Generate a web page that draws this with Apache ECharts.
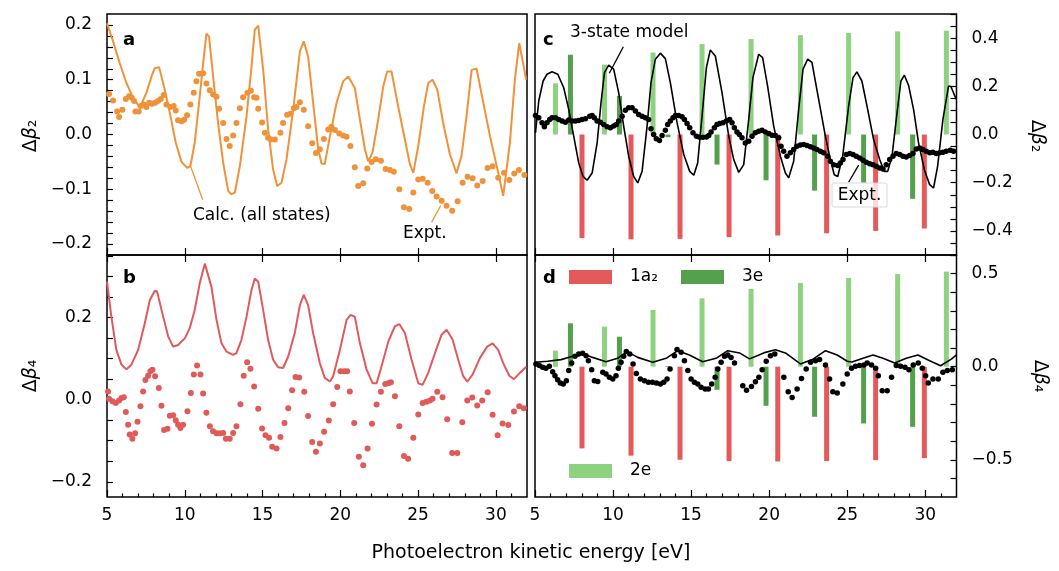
<!DOCTYPE html>
<html><head><meta charset="utf-8">
<script src="https://cdn.jsdelivr.net/npm/echarts@6/dist/echarts.min.js"></script>
<style>html,body{margin:0;padding:0;background:#fff}#c{width:1059px;height:571px}</style>
</head><body><div id="c"></div>
<script>
// ---------- DATA ----------
// panel a: Δβ2, calculation (all states) and experiment
const calcB2 = [[5.0,0.203],[5.39,0.170],[5.82,0.130],[6.25,0.094],[6.68,0.067],[7.11,0.049],[7.53,0.076],[7.86,0.106],[8.07,0.121],[8.35,0.123],[8.71,0.082],[9.04,0.039],[9.42,-0.015],[9.79,-0.050],[10.15,-0.061],[10.36,-0.058],[10.64,-0.015],[10.92,0.058],[11.18,0.130],[11.39,0.184],[11.56,0.179],[11.82,0.106],[12.14,0.021],[12.47,-0.052],[12.79,-0.103],[13.0,-0.109],[13.22,-0.106],[13.54,-0.058],[13.97,0.033],[14.29,0.124],[14.50,0.191],[14.72,0.199],[15.04,0.118],[15.36,0.009],[15.68,-0.064],[15.94,-0.094],[16.22,-0.088],[16.54,-0.045],[16.97,0.046],[17.40,0.152],[17.65,0.170],[17.93,0.142],[18.25,0.058],[18.58,-0.027],[18.79,-0.053],[19.0,-0.054],[19.33,-0.003],[19.76,0.058],[20.18,0.097],[20.51,0.106],[20.93,0.085],[21.26,0.027],[21.58,-0.027],[21.79,-0.049],[22.07,-0.033],[22.43,0.027],[22.76,0.088],[23.01,0.115],[23.29,0.115],[23.72,0.051],[24.15,-0.009],[24.47,-0.054],[24.69,-0.070],[25.01,-0.021],[25.37,0.051],[25.65,0.094],[25.93,0.100],[26.23,0.082],[26.61,0.021],[27.04,-0.036],[27.47,-0.071],[27.79,-0.039],[28.11,0.033],[28.44,0.118],[28.76,0.120],[29.19,0.058],[29.62,-0.003],[30.15,-0.070],[30.47,-0.112],[30.90,-0.015],[31.22,0.100],[31.50,0.167],[31.95,0.100]];
const exptB2 = [[5.13,0.074],[5.39,0.062],[5.65,0.042],[5.78,0.032],[5.99,0.045],[6.21,0.065],[6.42,0.070],[6.59,0.067],[6.74,0.061],[6.83,0.042],[7.04,0.042],[7.17,0.052],[7.36,0.055],[7.53,0.050],[7.71,0.058],[7.90,0.056],[8.09,0.058],[8.28,0.061],[8.46,0.065],[8.65,0.072],[8.82,0.055],[9.08,0.050],[9.29,0.052],[9.42,0.044],[9.57,0.026],[9.79,0.024],[9.96,0.027],[10.15,0.035],[10.36,0.055],[10.58,0.076],[10.75,0.097],[10.92,0.111],[11.18,0.112],[11.39,0.093],[11.61,0.081],[11.82,0.073],[12.04,0.069],[12.21,0.047],[12.47,0.021],[12.68,-0.008],[12.89,-0.021],[13.11,-0.002],[13.32,0.021],[13.54,0.048],[13.75,0.068],[14.03,0.076],[14.25,0.080],[14.46,0.068],[14.61,0.067],[14.72,0.047],[14.97,0.022],[15.15,0.003],[15.36,-0.006],[15.57,-0.009],[15.79,-0.009],[16.15,0.003],[16.32,0.021],[16.58,0.036],[16.80,0.038],[17.01,0.048],[17.18,0.050],[17.40,0.059],[17.65,0.045],[17.93,0.015],[18.19,-0.016],[18.43,-0.034],[18.68,-0.027],[18.94,-0.008],[19.22,0.009],[19.43,0.014],[19.65,0.008],[19.93,0.002],[20.18,-0.002],[20.40,-0.004],[20.65,-0.021],[20.93,-0.060],[21.15,-0.094],[21.47,-0.089],[21.73,-0.062],[22.01,-0.050],[22.28,-0.045],[22.61,-0.048],[22.91,-0.063],[23.19,-0.065],[23.44,-0.068],[23.79,-0.100],[24.09,-0.133],[24.43,-0.136],[24.69,-0.106],[25.01,-0.082],[25.29,-0.081],[25.61,-0.088],[25.91,-0.103],[26.19,-0.113],[26.51,-0.121],[26.83,-0.130],[27.19,-0.139],[27.54,-0.122],[27.86,-0.088],[28.18,-0.077],[28.50,-0.080],[28.80,-0.093],[29.15,-0.085],[29.47,-0.061],[29.79,-0.058],[30.15,-0.079],[30.52,-0.070],[30.86,-0.083],[31.18,-0.071],[31.48,-0.065],[31.83,-0.074]];

// panel b: Δβ4, calculation and experiment
const calcB4 = [[5.0,0.287],[5.28,0.202],[5.6,0.121],[5.93,0.085],[6.25,0.074],[6.57,0.085],[7.0,0.121],[7.43,0.186],[7.75,0.242],[8.07,0.265],[8.22,0.263],[8.61,0.202],[8.93,0.154],[9.25,0.129],[9.57,0.133],[10.0,0.149],[10.32,0.174],[10.64,0.218],[10.96,0.283],[11.29,0.331],[11.39,0.333],[11.71,0.275],[12.04,0.194],[12.36,0.137],[12.68,0.117],[13.11,0.109],[13.32,0.113],[13.64,0.145],[13.97,0.202],[14.29,0.267],[14.50,0.295],[14.72,0.287],[15.04,0.218],[15.36,0.145],[15.68,0.097],[16.0,0.079],[16.32,0.077],[16.65,0.105],[17.07,0.162],[17.40,0.230],[17.65,0.255],[17.93,0.230],[18.25,0.162],[18.68,0.089],[19.0,0.053],[19.33,0.044],[19.54,0.057],[19.97,0.121],[20.40,0.194],[20.66,0.206],[20.93,0.202],[21.26,0.137],[21.69,0.073],[22.07,0.040],[22.33,0.040],[22.65,0.081],[23.08,0.141],[23.5,0.178],[23.79,0.184],[24.15,0.162],[24.58,0.097],[25.01,0.040],[25.29,0.036],[25.65,0.065],[26.08,0.113],[26.51,0.158],[26.83,0.170],[27.21,0.147],[27.58,0.097],[27.90,0.057],[28.16,0.044],[28.50,0.061],[28.97,0.101],[29.44,0.129],[29.79,0.137],[30.15,0.121],[30.47,0.089],[30.86,0.058],[31.16,0.050],[31.54,0.065],[31.95,0.080]];
const exptB4 = [[5.07,0.020],[5.13,0.002],[5.35,-0.004],[5.56,-0.008],[5.78,-0.002],[5.93,0.004],[6.08,0.006],[6.21,-0.030],[6.36,-0.061],[6.46,-0.085],[6.63,-0.095],[6.81,-0.082],[6.96,-0.054],[7.15,-0.016],[7.32,0.020],[7.47,0.048],[7.64,0.058],[7.79,0.069],[7.92,0.073],[8.09,0.057],[8.33,0.028],[8.50,-0.015],[8.67,-0.074],[8.89,-0.071],[9.04,-0.039],[9.25,-0.038],[9.42,-0.050],[9.57,-0.061],[9.72,-0.069],[9.89,-0.061],[10.17,-0.028],[10.39,0.016],[10.58,0.061],[10.79,0.083],[11.01,0.061],[11.18,0.015],[11.39,-0.032],[11.61,-0.065],[11.82,-0.077],[12.04,-0.082],[12.25,-0.082],[12.47,-0.081],[12.64,-0.095],[12.89,-0.095],[13.11,-0.081],[13.32,-0.065],[13.58,-0.011],[13.79,0.058],[14.01,0.091],[14.22,0.075],[14.46,0.032],[14.72,-0.022],[14.97,-0.070],[15.19,-0.087],[15.42,-0.093],[15.62,-0.115],[15.90,-0.119],[16.15,-0.091],[16.41,-0.057],[16.65,-0.021],[16.90,0.023],[17.12,0.055],[17.35,0.054],[17.68,0.019],[17.93,-0.040],[18.19,-0.103],[18.43,-0.127],[18.68,-0.107],[18.96,-0.078],[19.26,-0.051],[19.54,-0.011],[19.80,0.031],[20.01,0.069],[20.25,0.069],[20.44,0.069],[20.61,0.020],[20.89,-0.057],[21.19,-0.139],[21.47,-0.160],[21.75,-0.119],[22.03,-0.059],[22.33,-0.012],[22.61,0.019],[22.89,0.038],[23.08,0.040],[23.25,0.042],[23.51,0.008],[23.79,-0.065],[24.09,-0.137],[24.36,-0.144],[24.69,-0.093],[25.01,-0.036],[25.29,-0.008],[25.54,-0.005],[25.76,-0.002],[25.93,0.002],[26.23,0.019],[26.57,0.006],[26.87,-0.048],[27.19,-0.130],[27.52,-0.130],[27.84,-0.055],[28.16,-0.002],[28.48,0.005],[28.80,-0.014],[29.12,-0.002],[29.47,0.018],[29.79,-0.037],[30.11,-0.087],[30.43,-0.058],[30.80,-0.062],[31.16,-0.029],[31.50,-0.016],[31.80,-0.021]];

// panel c: Δβ2, 3-state model and experiment
const model3B2 = [[5.03,0.007],[5.24,0.139],[5.52,0.222],[5.77,0.25],[6.09,0.26],[6.46,0.25],[6.84,0.194],[7.16,0.104],[7.48,-0.007],[7.80,-0.118],[8.08,-0.174],[8.34,-0.19],[8.66,-0.16],[8.98,-0.035],[9.23,0.132],[9.45,0.257],[9.72,0.288],[10.04,0.271],[10.36,0.174],[10.68,0.035],[11.0,-0.09],[11.32,-0.174],[11.58,-0.201],[11.86,-0.153],[12.18,0.035],[12.43,0.215],[12.71,0.3125],[13.03,0.3375],[13.35,0.315],[13.67,0.215],[14.10,0.049],[14.53,-0.083],[14.91,-0.153],[15.17,-0.169],[15.42,-0.118],[15.70,0.076],[15.98,0.278],[16.23,0.351],[16.55,0.326],[16.98,0.174],[17.41,-0.007],[17.73,-0.104],[18.05,-0.157],[18.37,-0.125],[18.69,0.0625],[18.96,0.236],[19.33,0.333],[19.58,0.319],[19.90,0.201],[20.29,0.035],[20.72,-0.09],[21.04,-0.16],[21.25,-0.18],[21.57,-0.111],[21.89,0.104],[22.17,0.271],[22.47,0.3125],[22.74,0.299],[23.17,0.146],[23.60,-0.007],[23.92,-0.104],[24.17,-0.167],[24.39,-0.174],[24.71,-0.09],[25.09,0.118],[25.37,0.236],[25.62,0.26],[25.94,0.222],[26.31,0.104],[26.69,-0.021],[27.08,-0.104],[27.37,-0.153],[27.59,-0.153],[27.87,-0.09],[28.19,0.09],[28.44,0.222],[28.66,0.246],[28.93,0.204],[29.25,0.104],[29.57,-0.035],[29.94,-0.146],[30.28,-0.208],[30.53,-0.222],[30.79,-0.132],[31.13,0.0625],[31.49,0.201],[31.64,0.199],[31.98,0.146]];
const exptB2c = [[5.03,0.079],[5.24,0.069],[5.45,0.049],[5.60,0.032],[5.77,0.049],[5.94,0.0625],[6.09,0.069],[6.31,0.069],[6.52,0.0625],[6.73,0.056],[6.95,0.051],[7.16,0.060],[7.37,0.056],[7.59,0.056],[7.80,0.058],[8.01,0.0625],[8.23,0.065],[8.51,0.076],[8.66,0.079],[8.80,0.069],[8.98,0.056],[9.19,0.051],[9.40,0.042],[9.62,0.032],[9.83,0.028],[10.04,0.035],[10.21,0.042],[10.36,0.056],[10.58,0.076],[10.79,0.101],[11.00,0.111],[11.22,0.111],[11.43,0.097],[11.64,0.083],[11.86,0.076],[12.07,0.069],[12.28,0.0625],[12.43,0.024],[12.60,0.0],[12.77,-0.018],[12.97,-0.025],[13.14,-0.004],[13.35,0.018],[13.50,0.042],[13.67,0.056],[13.84,0.069],[13.99,0.079],[14.20,0.079],[14.42,0.074],[14.57,0.0625],[14.74,0.046],[14.91,0.028],[15.12,0.007],[15.34,-0.007],[15.55,-0.011],[15.76,-0.011],[15.98,-0.010],[16.13,-0.004],[16.28,0.010],[16.49,0.028],[16.66,0.042],[16.83,0.046],[17.04,0.049],[17.26,0.056],[17.47,0.0625],[17.62,0.049],[17.77,0.028],[17.94,0.010],[18.09,0.0],[18.26,-0.014],[18.47,-0.035],[18.69,-0.028],[18.90,-0.007],[19.11,0.007],[19.33,0.014],[19.54,0.018],[19.75,0.010],[19.97,0.004],[20.18,-0.003],[20.40,-0.004],[20.61,-0.014],[20.76,-0.049],[20.93,-0.069],[21.14,-0.090],[21.36,-0.076],[21.57,-0.0625],[21.78,-0.049],[22.00,-0.044],[22.21,-0.042],[22.42,-0.046],[22.64,-0.051],[22.85,-0.056],[23.06,-0.0625],[23.28,-0.069],[23.49,-0.076],[23.75,-0.090],[23.92,-0.111],[24.13,-0.125],[24.39,-0.129],[24.56,-0.118],[24.73,-0.104],[24.94,-0.083],[25.16,-0.079],[25.37,-0.083],[25.58,-0.090],[25.80,-0.097],[26.01,-0.107],[26.22,-0.115],[26.44,-0.121],[26.65,-0.125],[26.86,-0.132],[27.08,-0.139],[27.29,-0.143],[27.50,-0.125],[27.72,-0.104],[27.93,-0.090],[28.14,-0.079],[28.36,-0.083],[28.57,-0.090],[28.78,-0.093],[29.00,-0.0875],[29.21,-0.079],[29.42,-0.060],[29.64,-0.056],[29.85,-0.0625],[30.06,-0.069],[30.28,-0.076],[30.49,-0.074],[30.70,-0.079],[30.92,-0.076],[31.13,-0.074],[31.34,-0.069],[31.60,-0.065],[31.81,-0.069]];

// panel d: Δβ4, 3-state model and experiment
const model3B4 = [[5.0,0.024],[5.81,0.029],[6.67,0.038],[7.41,0.056],[7.95,0.074],[8.69,0.050],[9.55,0.027],[10.29,0.045],[10.90,0.081],[11.58,0.050],[12.54,0.024],[13.40,0.045],[14.14,0.086],[14.89,0.063],[15.74,0.027],[16.60,0.045],[17.35,0.086],[18.10,0.074],[18.74,0.042],[19.12,0.055],[19.76,0.077],[20.40,0.091],[21.04,0.074],[22.0,0.015],[22.76,0.038],[23.61,0.086],[24.36,0.063],[25.0,0.029],[25.3,0.025],[26.01,0.045],[26.65,0.063],[27.29,0.045],[28.04,0.020],[28.78,0.045],[29.53,0.063],[30.28,0.032],[30.98,0.005],[31.67,0.041],[32.0,0.063]];
const exptB4d = [[5.06,0.014],[5.28,0.006],[5.49,-0.003],[5.70,-0.009],[5.92,0.002],[6.13,-0.027],[6.28,-0.048],[6.45,-0.070],[6.62,-0.088],[6.81,-0.093],[7.01,-0.075],[7.16,-0.021],[7.35,0.020],[7.56,0.056],[7.80,0.068],[8.05,0.072],[8.27,0.059],[8.42,0.032],[8.63,-0.016],[8.80,-0.075],[9.02,-0.080],[9.34,-0.030],[9.55,-0.039],[9.76,-0.057],[9.98,-0.066],[10.19,-0.048],[10.34,-0.009],[10.51,0.024],[10.68,0.056],[10.85,0.081],[11.07,0.068],[11.28,0.015],[11.49,-0.036],[11.75,-0.066],[12.01,-0.075],[12.26,-0.084],[12.52,-0.084],[12.78,-0.088],[13.03,-0.093],[13.25,-0.084],[13.46,-0.066],[13.65,-0.012],[13.93,0.059],[14.10,0.092],[14.36,0.077],[14.57,0.032],[14.79,-0.021],[15.0,-0.066],[15.21,-0.084],[15.43,-0.093],[15.64,-0.111],[15.90,-0.120],[16.11,-0.120],[16.32,-0.093],[16.54,-0.057],[16.71,-0.012],[16.92,0.024],[17.14,0.056],[17.35,0.063],[17.56,0.050],[17.78,0.020],[18.31,-0.102],[18.55,-0.127],[18.87,-0.106],[19.12,-0.081],[19.34,-0.057],[19.55,-0.016],[19.81,0.029],[20.08,0.059],[20.36,0.068],[20.94,-0.057],[21.22,-0.134],[21.47,-0.165],[21.79,-0.120],[22.07,-0.063],[22.37,-0.012],[22.65,0.024],[22.97,0.032],[23.23,0.038],[23.61,0.009],[23.87,-0.066],[24.08,-0.134],[24.36,-0.141],[24.72,-0.093],[25.0,-0.039],[25.28,-0.009],[25.53,0.002],[25.79,0.006],[26.07,0.009],[26.28,0.020],[26.56,0.009],[26.82,-0.009],[26.99,-0.048],[27.24,-0.129],[27.56,-0.129],[27.84,-0.057],[28.14,0.006],[28.42,0.002],[28.70,-0.003],[28.95,-0.016],[29.23,0.009],[29.55,0.020],[29.81,-0.009],[30.02,-0.048],[30.19,-0.088],[30.49,-0.066],[30.83,-0.066],[31.13,-0.030],[31.41,-0.021],[31.73,-0.016]];

// partial-wave state contributions (bars)
const x1a2 = [8.01, 11.15, 14.29, 17.43, 20.55, 23.68, 26.82, 29.94];
const b2_1a2 = [-0.43, -0.435, -0.433, -0.426, -0.419, -0.41, -0.40, -0.39];
const b4_1a2 = [-0.439, -0.478, -0.50, -0.507, -0.509, -0.507, -0.502, -0.491];
const x3e = [7.27, 10.41, 13.52, 16.66, 19.80, 22.91, 26.05, 29.19];
const b2_3e = [0.331, 0.16, -0.011, -0.125, -0.19, -0.233, -0.20, -0.267];
const b4_3e = [0.233, 0.161, 0.004, -0.124, -0.21, -0.269, -0.305, -0.323];
const x2e = [6.31, 9.45, 12.56, 15.70, 18.84, 22.0, 25.09, 28.23, 31.35];
const b2_2e = [0.2125, 0.29, 0.34, 0.375, 0.396, 0.4125, 0.421, 0.428, 0.431];
const b4_2e = [0.086, 0.215, 0.305, 0.367, 0.418, 0.45, 0.477, 0.498, 0.511];

// tick values
const xMajor = [5, 10, 15, 20, 25, 30];
const xMinor = [6,7,8,9,11,12,13,14,16,17,18,19,21,22,23,24,26,27,28,29,31];
const yTicksA = [-0.2,-0.18,-0.16,-0.14,-0.12,-0.1,-0.08,-0.06,-0.04,-0.02,0,0.02,0.04,0.06,0.08,0.1,0.12,0.14,0.16,0.18,0.2];
const yLabelsA = [-0.2,-0.1,0,0.1,0.2];
const yTicksB = [-0.2,-0.15,-0.1,-0.05,0,0.05,0.1,0.15,0.2,0.25,0.3,0.35];
const yLabelsB = [-0.2,0,0.2];
const yTicksC = [-0.5,-0.45,-0.4,-0.35,-0.3,-0.25,-0.2,-0.15,-0.1,-0.05,0,0.05,0.1,0.15,0.2,0.25,0.3,0.35,0.4,0.45,0.5];
const yLabelsC = [-0.4,-0.2,0,0.2,0.4];
const yTicksD = [-0.6,-0.5,-0.4,-0.3,-0.2,-0.1,0,0.1,0.2,0.3,0.4,0.5,0.6];
const yLabelsD = [-0.5,0,0.5];

// ---------- STYLE ----------
const FONT = 'DejaVu Sans';
const ORANGE = '#F0923A', RED = '#E05A5A', RED_BAR = '#E45A5A', DGREEN = '#55A04C', LGREEN = '#8DD27E';
const fmtY = v => (Math.abs(v) < 1e-9 ? '0.0' : v.toFixed(1)).replace('-', '\u2212');
const tickStyle = {color:'#000', width:1.2};

function xAx(grid, o) {
  return Object.assign({
    type:'value', gridIndex:grid, min:5, max:32, position:'bottom',
    axisLine:{show:false, onZero:false}, splitLine:{show:false},
    axisTick:{show:true, inside:true, length:7, lineStyle:tickStyle, customValues:xMajor},
    axisLabel:{show:false}
  }, o);
}
function yAx(grid, pos, min, max, ticks, labels) {
  return {
    type:'value', gridIndex:grid, min, max, position:pos,
    axisLine:{show:false, onZero:false}, splitLine:{show:false},
    axisTick:{show:true, inside:true, length:6, lineStyle:tickStyle, customValues:ticks},
    axisLabel:{show:true, customValues:labels, formatter:fmtY, fontSize:17, color:'#000', fontFamily:FONT, margin:15}
  };
}
const xLab = {show:true, customValues:xMajor, fontSize:17, color:'#000', fontFamily:FONT, margin:10, formatter: v => String(v)};

function bars(xs, vs, color, xi, yi) {
  return {
    type:'custom', xAxisIndex:xi, yAxisIndex:yi, silent:true, z:1,
    data: xs.map((x, i) => [x, vs[i]]),
    renderItem: (params, api) => {
      const p0 = api.coord([api.value(0), 0]);
      const p1 = api.coord([api.value(0), api.value(1)]);
      return {type:'rect', shape:{x:p0[0]-2.5, y:Math.min(p0[1],p1[1]), width:5, height:Math.abs(p1[1]-p0[1])}, style:{fill:color}};
    }
  };
}
function leader(p, q, color) {
  return {silent:true, symbol:'none', animation:false, label:{show:false},
    lineStyle:{color, width:1.3, type:'solid'}, data:[[{coord:p},{coord:q}]]};
}
function txt(x, y, text, o) {
  return {type:'text', x, y, z:100, style:Object.assign({text, fill:'#000', font:'17px "DejaVu Sans"', textVerticalAlign:'middle'}, o||{})};
}
function dbLabel(x, y, sub, rot) {
  return {type:'text', x, y, rotation:rot, z:100, style:{
    text:'{n|Δ}{i|β}{n|' + sub + '}', textAlign:'center', textVerticalAlign:'middle',
    rich:{n:{fontSize:19, fontFamily:FONT, fill:'#000'}, i:{fontSize:19, fontFamily:FONT, fontStyle:'italic', fill:'#000'}}
  }};
}

const gridStyle = {show:true, borderColor:'#000', borderWidth:1.5, backgroundColor:'transparent', containLabel:false};

const option = {
  animation:false,
  backgroundColor:'#fff',
  grid:[
    Object.assign({left:107, top:14, width:420, height:241}, gridStyle),
    Object.assign({left:107, top:255, width:420, height:242}, gridStyle),
    Object.assign({left:535, top:14, width:421.5, height:241}, gridStyle),
    Object.assign({left:535, top:255, width:421.5, height:242}, gridStyle)
  ],
  xAxis:[
    xAx(0),                                   // 0 panel a
    xAx(1, {axisLabel:xLab}),                 // 1 panel b
    xAx(1, {axisTick:{show:true, inside:true, length:3.5, lineStyle:tickStyle, customValues:xMinor}}), // 2 b minor
    xAx(1, {position:'top'}),                 // 3 b top
    xAx(2),                                   // 4 panel c
    xAx(3, {axisLabel:xLab}),                 // 5 panel d
    xAx(3, {axisTick:{show:true, inside:true, length:3.5, lineStyle:tickStyle, customValues:xMinor}}), // 6 d minor
    xAx(3, {position:'top'})                  // 7 d top
  ],
  yAxis:[
    yAx(0, 'left', -0.22, 0.22, yTicksA, yLabelsA),
    yAx(1, 'left', -0.237, 0.352, yTicksB, yLabelsB),
    yAx(2, 'right', -0.5, 0.5, yTicksC, yLabelsC),
    yAx(3, 'right', -0.7, 0.6, yTicksD, yLabelsD)
  ],
  series:[
    // panel a
    {type:'line', xAxisIndex:0, yAxisIndex:0, data:calcB2, showSymbol:false, symbol:'none', lineStyle:{color:ORANGE, width:2}, z:2,
      markLine: leader([10.33,-0.0545],[11.15,-0.119], ORANGE)},
    {type:'scatter', xAxisIndex:0, yAxisIndex:0, data:exptB2, symbolSize:6, itemStyle:{color:ORANGE, opacity:1}, z:3,
      markLine: leader([26.45,-0.13],[25.87,-0.16], ORANGE)},
    // panel b
    {type:'line', xAxisIndex:1, yAxisIndex:1, data:calcB4, showSymbol:false, symbol:'none', lineStyle:{color:RED, width:2}, z:2},
    {type:'scatter', xAxisIndex:1, yAxisIndex:1, data:exptB4, symbolSize:6, itemStyle:{color:RED, opacity:1}, z:3},
    // panel c
    bars(x2e, b2_2e, LGREEN, 4, 2),
    bars(x3e, b2_3e, DGREEN, 4, 2),
    bars(x1a2, b2_1a2, RED_BAR, 4, 2),
    {type:'line', xAxisIndex:4, yAxisIndex:2, data:model3B2, showSymbol:false, symbol:'none', lineStyle:{color:'#000', width:1.6}, z:2,
      markLine: leader([10.66,0.364],[9.76,0.254], '#000')},
    {type:'scatter', xAxisIndex:4, yAxisIndex:2, data:exptB2c, symbolSize:5.5, itemStyle:{color:'#000', opacity:1}, z:3,
      markLine: leader([25.73,-0.127],[25.09,-0.198], '#000')},
    // panel d
    bars(x2e, b4_2e, LGREEN, 5, 3),
    bars(x3e, b4_3e, DGREEN, 5, 3),
    bars(x1a2, b4_1a2, RED_BAR, 5, 3),
    {type:'line', xAxisIndex:5, yAxisIndex:3, data:model3B4, showSymbol:false, symbol:'none', lineStyle:{color:'#000', width:1.6}, z:2},
    {type:'scatter', xAxisIndex:5, yAxisIndex:3, data:exptB4d, symbolSize:5.5, itemStyle:{color:'#000', opacity:1}, z:3}
  ],
  graphic:[
    txt(123, 40, 'a', {font:'bold 18px "DejaVu Sans"'}),
    txt(123, 278, 'b', {font:'bold 18px "DejaVu Sans"'}),
    txt(543, 40, 'c', {font:'bold 18px "DejaVu Sans"'}),
    txt(543, 278, 'd', {font:'bold 18px "DejaVu Sans"'}),
    txt(193, 216, 'Calc. (all states)'),
    txt(403, 234, 'Expt.'),
    txt(570, 33, '3-state model'),
    {type:'rect', z:90, shape:{x:832, y:183, width:55, height:24, r:2}, style:{fill:'rgba(255,255,255,0.78)', stroke:'#d9d9d9', lineWidth:1}},
    txt(859.5, 195.5, 'Expt.', {textAlign:'center'}),
    {type:'rect', z:90, shape:{x:569, y:270, width:43, height:14}, style:{fill:RED_BAR}},
    txt(630, 277, '1a\u2082'),
    {type:'rect', z:90, shape:{x:681, y:270, width:43, height:14}, style:{fill:DGREEN}},
    txt(742, 277, '3e'),
    {type:'rect', z:90, shape:{x:569, y:464, width:43, height:14}, style:{fill:LGREEN}},
    txt(630, 471, '2e'),
    dbLabel(31, 136, '\u2082', Math.PI/2),
    dbLabel(31, 376, '\u2084', Math.PI/2),
    dbLabel(1037, 136, '\u2082', -Math.PI/2),
    dbLabel(1040, 376, '\u2084', -Math.PI/2),
    txt(531, 553, 'Photoelectron kinetic energy [eV]', {textAlign:'center', font:'19px "DejaVu Sans"'})
  ]
};
const chart = echarts.init(document.getElementById('c'), null, {renderer:'canvas'});
chart.setOption(option);
</script>
</body></html>
